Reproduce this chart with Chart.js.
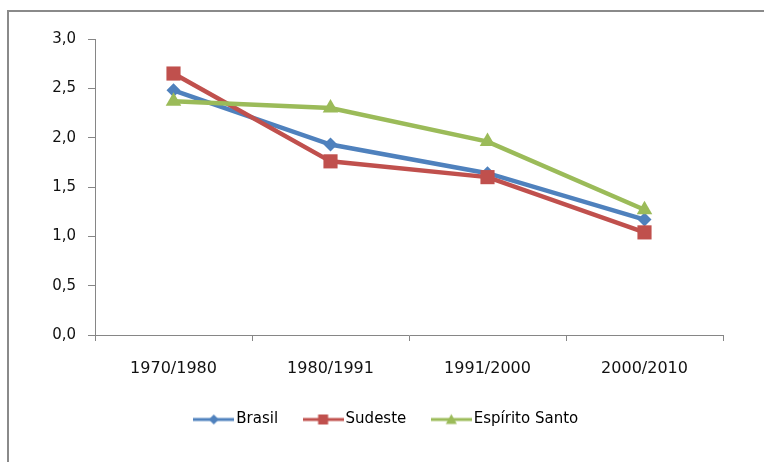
<!DOCTYPE html>
<html>
<head>
<meta charset="utf-8">
<script src="https://cdn.jsdelivr.net/npm/chart.js@4/dist/chart.umd.min.js"></script>
<style>
  html, body { margin: 0; padding: 0; background: #fff; overflow: hidden; }
  .frame { position: absolute; left: 7px; top: 10px; width: 800px; height: 500px; border: 2px solid #8a8a8a; }
  #chart { position: absolute; left: 0; top: 0; }
</style>
</head>
<body>
<div class="frame"></div>
<canvas id="chart" width="764" height="462"></canvas>
<script>
// data
var categories = ['1970/1980', '1980/1991', '1991/2000', '2000/2010']
var brasil = [2.48, 1.93, 1.64, 1.17]
var sudeste = [2.65, 1.76, 1.60, 1.04]
var espiritoSanto = [2.37, 2.30, 1.96, 1.27]
var yTicks = [0, 0.5, 1, 1.5, 2, 2.5, 3]

var blue = '#4F81BD'
var red = '#C0504D'
var green = '#9BBB59'
var axisColor = '#868686'
var textColor = '#111111'

Chart.defaults.font.family = 'DejaVu Sans'
Chart.defaults.font.size = 15
Chart.defaults.color = textColor

// legend glyph: short line with the marker in the middle
function legendIcon(color, shape) {
    var c = document.createElement('canvas')
    c.width = 41
    c.height = 14
    var g = c.getContext('2d')
    g.strokeStyle = color
    g.fillStyle = color
    g.lineWidth = 3
    g.beginPath()
    g.moveTo(0, 7)
    g.lineTo(41, 7)
    g.stroke()
    g.beginPath()
    if (shape == 'diamond') {
        g.moveTo(20.5, 2); g.lineTo(25.5, 7); g.lineTo(20.5, 12); g.lineTo(15.5, 7)
    } else if (shape == 'square') {
        g.rect(15.5, 2, 10, 10)
    } else {
        g.moveTo(20.5, 1.5); g.lineTo(26, 11.5); g.lineTo(15, 11.5)
    }
    g.closePath()
    g.fill()
    return c
}

var icons = [legendIcon(blue, 'diamond'), legendIcon(red, 'square'), legendIcon(green, 'triangle')]

function series(label, data, color, style, radius, order) {
    return {
        label: label,
        data: data,
        borderColor: color,
        backgroundColor: color,
        borderWidth: 4.5,
        pointStyle: style,
        pointRadius: radius,
        pointBorderWidth: 0,
        pointBackgroundColor: color,
        tension: 0,
        order: order
    }
}

// nudge the legend to where the original sits
var legendShift = {
    id: 'legendShift',
    afterLayout: function (chart) {
        chart.legend.left += 54
    }
}

var ctx = document.getElementById('chart').getContext('2d')
var chart = new Chart(ctx, {
    type: 'line',
    data: {
        labels: categories,
        datasets: [
            series('Brasil', brasil, blue, 'rectRot', 7, 3),
            series('Sudeste', sudeste, red, 'rect', 10, 2),
            series('Espírito Santo', espiritoSanto, green, 'triangle', 9, 1)
        ]
    },
    plugins: [legendShift],
    options: {
        responsive: false,
        devicePixelRatio: 1,
        animation: false,
        layout: {
            padding: { left: 0, right: 41, top: 39, bottom: 25 }
        },
        scales: {
            x: {
                offset: true,
                grid: { offset: true, drawOnChartArea: false, drawTicks: true, tickLength: 6, color: axisColor },
                border: { color: axisColor, width: 1 },
                ticks: { padding: 18, color: textColor, maxRotation: 0, font: { size: 16 } },
                afterFit: function (scale) { scale.height = 47 }
            },
            y: {
                min: 0,
                max: 3,
                afterBuildTicks: function (scale) {
                    scale.ticks = yTicks.map(function (v) { return { value: v } })
                },
                grid: { drawOnChartArea: false, drawTicks: true, tickLength: 7, color: axisColor },
                border: { color: axisColor, width: 1 },
                ticks: {
                    padding: 12,
                    color: textColor,
                    callback: function (v) { return Number(v).toFixed(1).replace('.', ',') }
                },
                afterFit: function (scale) { scale.width = 95 }
            }
        },
        plugins: {
            tooltip: { enabled: false },
            legend: {
                position: 'bottom',
                labels: {
                    usePointStyle: true,
                    pointStyleWidth: 30,
                    padding: 30,
                    color: textColor,
                    generateLabels: function (chart) {
                        return chart.data.datasets.map(function (ds, i) {
                            return {
                                text: ds.label,
                                fillStyle: ds.borderColor,
                                strokeStyle: ds.borderColor,
                                lineWidth: 0,
                                pointStyle: icons[i],
                                hidden: false,
                                datasetIndex: i
                            }
                        })
                    }
                }
            }
        }
    }
})
</script>
</body>
</html>
